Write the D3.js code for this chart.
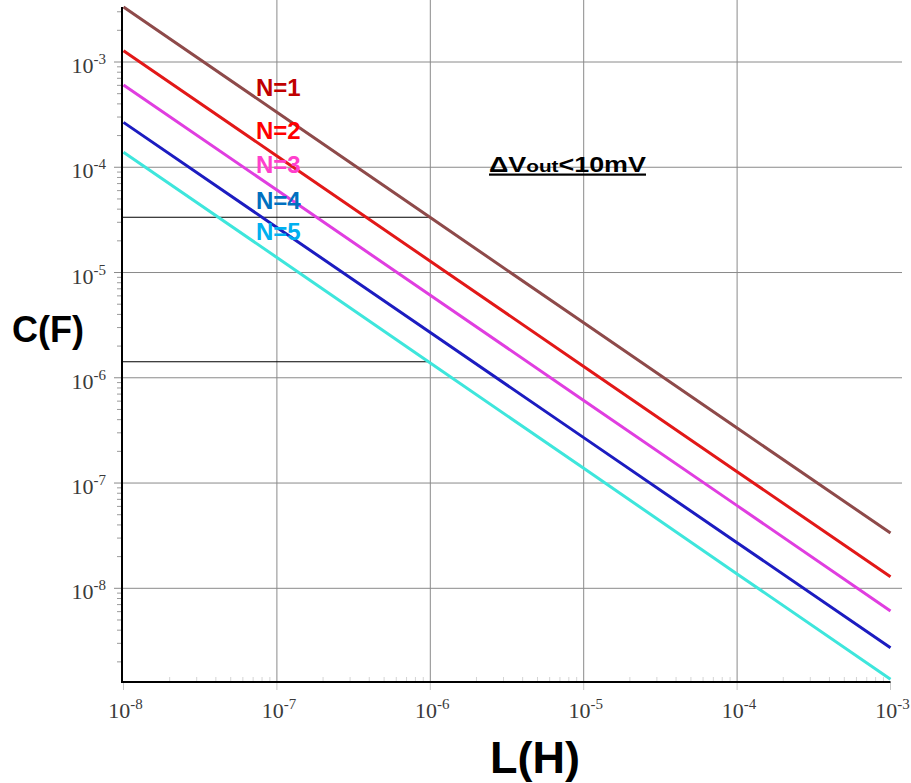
<!DOCTYPE html>
<html>
<head>
<meta charset="utf-8">
<script src="https://cdn.jsdelivr.net/npm/d3@7"></script>
<style>
  html, body { margin: 0; padding: 0; background: #fff; }
  svg { display: block; }
</style>
</head>
<body>
<svg id="chart" width="911" height="783"></svg>
<script>
// ---- data ----
const inductance = [1e-8, 1e-7, 1e-6, 1e-5, 1e-4, 1e-3];
const capN1 = [3.33e-3, 3.33e-4, 3.33e-5, 3.33e-6, 3.33e-7, 3.35e-8];
const capN2 = [1.28e-3, 1.28e-4, 1.28e-5, 1.28e-6, 1.28e-7, 1.29e-8];
const capN3 = [6.05e-4, 6.07e-5, 6.08e-6, 6.09e-7, 6.1e-8, 6.1e-9];
const capN4 = [2.67e-4, 2.68e-5, 2.69e-6, 2.7e-7, 2.71e-8, 2.72e-9];
const capN5 = [1.39e-4, 1.39e-5, 1.38e-6, 1.38e-7, 1.37e-8, 1.37e-9];
const seriesNames = ["N=1", "N=2", "N=3", "N=4", "N=5"];
const xTickExps = [-8, -7, -6, -5, -4, -3];
const yTickExps = [-3, -4, -5, -6, -7, -8];
const refL = [1e-6, 1e-6];
const refC = [3.35e-5, 1.42e-6];
const noteMain = ["ΔV", "out", "<10mV"];

// ---- styles ----
const lineColors = ["#8e4a4a", "#e21818", "#e03ee0", "#1c1cc0", "#3ee6dc"];
const labelColors = ["#c00000", "#ff0000", "#ff3fcc", "#0070c0", "#00b0f0"];

const svg = d3.select("#chart");
const x = d3.scaleLog().domain([1e-8, 1e-3]).range([123.5, 890.5]);
const y = d3.scaleLog().domain([1e-8, 1e-3]).range([588.3, 62]);
const axisX = 122, axisY = 682, topY = 7, gridRight = 902;

// grid lines
const g = svg.append("g");
g.selectAll("line.hg").data(yTickExps).join("line")
  .attr("x1", axisX).attr("x2", gridRight)
  .attr("y1", d => y(Math.pow(10, d))).attr("y2", d => y(Math.pow(10, d)))
  .attr("stroke", "#8a8a8a").attr("stroke-width", 1);
g.selectAll("line.vg").data(xTickExps.filter(e => e > -8 && e < -3)).join("line")
  .attr("x1", d => x(Math.pow(10, d))).attr("x2", d => x(Math.pow(10, d)))
  .attr("y1", 0).attr("y2", axisY)
  .attr("stroke", "#8a8a8a").attr("stroke-width", 1);

// minor ticks
const yMinor = [], xMinor = [];
for (let e = -9; e <= -3; e++) for (let m = 2; m <= 9; m++) {
  const v = m * Math.pow(10, e);
  if (y(v) >= topY && y(v) <= axisY) yMinor.push(v);
  if (v > 1e-8 && v < 1e-3) xMinor.push(v);
}
g.selectAll("line.ym").data(yMinor).join("line")
  .attr("x1", axisX - 5).attr("x2", axisX)
  .attr("y1", d => y(d)).attr("y2", d => y(d))
  .attr("stroke", "#9a9a9a").attr("stroke-width", 1);
g.selectAll("line.yM").data(yTickExps).join("line")
  .attr("x1", axisX - 8).attr("x2", axisX)
  .attr("y1", d => y(Math.pow(10, d))).attr("y2", d => y(Math.pow(10, d)))
  .attr("stroke", "#8a8a8a").attr("stroke-width", 1);
g.selectAll("line.xm").data(xMinor).join("line")
  .attr("x1", d => x(d)).attr("x2", d => x(d))
  .attr("y1", axisY - 5).attr("y2", axisY)
  .attr("stroke", "#d4d4d4").attr("stroke-width", 1);
g.selectAll("line.xM").data(xTickExps).join("line")
  .attr("x1", d => x(Math.pow(10, d))).attr("x2", d => x(Math.pow(10, d)))
  .attr("y1", axisY).attr("y2", axisY + 8)
  .attr("stroke", "#c8c8c8").attr("stroke-width", 1);

// reference lines
refC.forEach((c, i) => {
  svg.append("line")
    .attr("x1", axisX).attr("x2", x(refL[i]))
    .attr("y1", y(c)).attr("y2", y(c))
    .attr("stroke", "#000").attr("stroke-width", 1);
});

// series lines
const allSeries = [capN1, capN2, capN3, capN4, capN5];
const line = d3.line().x(d => x(d[0])).y(d => y(d[1]));
allSeries.forEach((s, i) => {
  svg.append("path")
    .datum(inductance.map((L, j) => [L, s[j]]))
    .attr("d", line)
    .attr("fill", "none")
    .attr("stroke", lineColors[i])
    .attr("stroke-width", 3);
});

// axes lines
svg.append("line").attr("x1", axisX).attr("x2", axisX).attr("y1", topY).attr("y2", axisY + 1)
  .attr("stroke", "#000").attr("stroke-width", 2);
svg.append("line").attr("x1", axisX - 1).attr("x2", x(1e-3)).attr("y1", axisY).attr("y2", axisY)
  .attr("stroke", "#000").attr("stroke-width", 2);

// tick labels
const serif = "'Liberation Serif', 'Times New Roman', serif";
function powLabel(sel, e) {
  sel.append("tspan").text("10");
  sel.append("tspan").attr("dy", -9).attr("font-size", 15).text("-" + Math.abs(e));
}
xTickExps.forEach(e => {
  const t = svg.append("text")
    .attr("x", x(Math.pow(10, e)) + 2).attr("y", 718)
    .attr("text-anchor", "middle")
    .attr("font-family", serif).attr("font-size", 22).attr("fill", "#3a3a3a");
  powLabel(t, e);
});
yTickExps.forEach(e => {
  const t = svg.append("text")
    .attr("x", 106).attr("y", y(Math.pow(10, e)) + 11)
    .attr("text-anchor", "end")
    .attr("font-family", serif).attr("font-size", 22).attr("fill", "#3a3a3a");
  powLabel(t, e);
});

// axis titles
const sans = "'Liberation Sans', Arial, sans-serif";
svg.append("text").attr("x", 12).attr("y", 342)
  .attr("font-family", sans).attr("font-weight", "bold").attr("font-size", 36)
  .attr("fill", "#000").text("C(F)");
svg.append("text").attr("x", 535).attr("y", 773).attr("text-anchor", "middle")
  .attr("font-family", sans).attr("font-weight", "bold").attr("font-size", 45)
  .attr("fill", "#000").text("L(H)");

// series labels
const labelBaselines = [96, 139, 172.5, 209, 240];
seriesNames.forEach((n, i) => {
  svg.append("text").attr("x", 256).attr("y", labelBaselines[i])
    .attr("font-family", sans).attr("font-weight", "bold").attr("font-size", 24)
    .attr("fill", labelColors[i]).text(n);
});

// annotation
const noteG = svg.append("g");
const note = noteG.append("text").attr("x", 0).attr("y", 0)
  .attr("font-family", sans).attr("font-weight", "bold").attr("font-size", 22).attr("fill", "#000");
note.append("tspan").text(noteMain[0]);
note.append("tspan").attr("font-size", 17).text(noteMain[1]);
note.append("tspan").text(noteMain[2]);
const w = note.node().getComputedTextLength();
const targetW = 157;
const sx = targetW / w;
noteG.attr("transform", `translate(489,172) scale(${sx},1)`);
svg.append("rect").attr("x", 489).attr("y", 173.5).attr("width", targetW).attr("height", 2.2).attr("fill", "#000");
</script>
</body>
</html>
